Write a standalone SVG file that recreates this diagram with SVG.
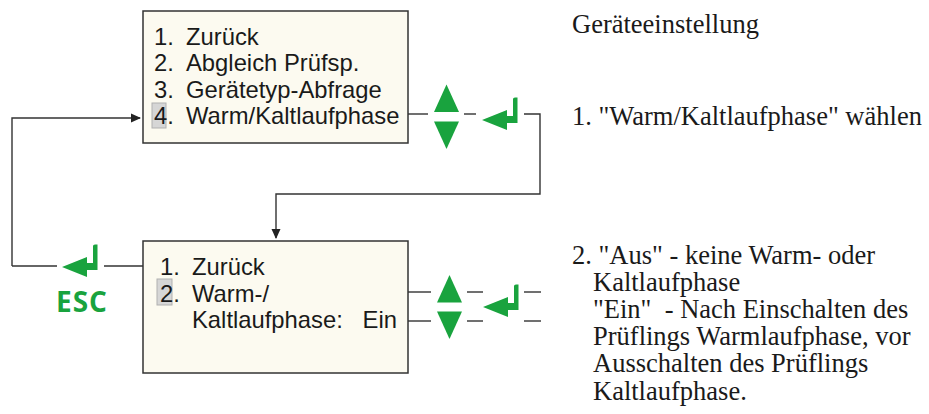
<svg xmlns="http://www.w3.org/2000/svg" width="929" height="414" viewBox="0 0 929 414">
<style>
.box{fill:#fcfaf0;stroke:#333;stroke-width:1.5}
.hl{fill:#d6d6d6;stroke:#b0b0b0;stroke-width:1}
.mt{font-family:"Liberation Sans",Arial,sans-serif;font-size:23.8px;fill:#1a1a1a}
.rt{font-family:"Liberation Serif","Times New Roman",serif;font-size:26.5px;fill:#1a1a1a;white-space:pre}
.ln{fill:none;stroke:#333;stroke-width:1.4}
.g{fill:#19a33e}
.esc{font-family:"Open Sans","DejaVu Sans",sans-serif;font-weight:bold;font-size:28px;fill:#19a33e;letter-spacing:1px}
</style>
<defs>
<marker id="ah" markerWidth="10" markerHeight="10" refX="9" refY="5" orient="auto" markerUnits="userSpaceOnUse">
<path d="M0,0.5 L10,5 L0,9.5 Z" fill="#222"/>
</marker>
<path id="enter" d="M0,0 L25,-10 L25,-4 L31,-4 L31,-21 Q31,-22.5 33,-22.5 L35.5,-22.5 L35.5,3 L25,3 L25,10 Z" class="g"/>
<path id="up" d="M12.5,0 L25,27.5 L0,27.5 Z" class="g"/>
<path id="down" d="M0,0 L25,0 L12.5,27.5 Z" class="g"/>
</defs>

<g id="connectors">
<polyline class="ln" points="12,266 12,118 140,118" marker-end="url(#ah)"/>
<line class="ln" x1="12" y1="266" x2="57" y2="266"/>
<line class="ln" x1="104" y1="266" x2="143" y2="266"/>
<line class="ln" x1="408" y1="114" x2="428" y2="114"/>
<line class="ln" x1="464" y1="114" x2="476" y2="114"/>
<polyline class="ln" points="524,114 540,114 540,194 276,194 276,238" marker-end="url(#ah)"/>
<line class="ln" x1="408" y1="292" x2="431" y2="292"/>
<line class="ln" x1="467" y1="292" x2="483" y2="292"/>
<line class="ln" x1="524" y1="292" x2="541" y2="292"/>
<line class="ln" x1="408" y1="321" x2="431" y2="321"/>
<line class="ln" x1="467" y1="321" x2="483" y2="321"/>
<line class="ln" x1="524" y1="321" x2="541" y2="321"/>
</g>

<g id="menu1">
<rect class="box" x="143" y="11" width="265" height="132"/>
<rect class="hl" x="152" y="103" width="14" height="25"/>
<text class="mt" x="154" y="45">1.</text><text class="mt" x="186" y="45">Zurück</text>
<text class="mt" x="154" y="71">2.</text><text class="mt" x="186" y="71">Abgleich Prüfsp.</text>
<text class="mt" x="154" y="97.5">3.</text><text class="mt" x="186" y="97.5">Gerätetyp-Abfrage</text>
<text class="mt" x="154" y="124">4.</text><text class="mt" x="186" y="124">Warm/Kaltlaufphase</text>
</g>

<g id="keys1">
<use href="#up" x="434" y="84.5"/>
<use href="#down" x="434" y="121.5"/>
<use href="#enter" x="482" y="120"/>
</g>

<g id="menu2">
<rect class="box" x="143" y="241" width="265" height="132"/>
<rect class="hl" x="157" y="279" width="15" height="26"/>
<text class="mt" x="160" y="275">1.</text><text class="mt" x="192" y="275">Zurück</text>
<text class="mt" x="160" y="301.5">2.</text><text class="mt" x="192" y="301.5">Warm-/</text>
<text class="mt" x="192" y="328">Kaltlaufphase:</text>
<text class="mt" x="397" y="328" text-anchor="end">Ein</text>
</g>

<g id="keys2">
<use href="#up" x="437" y="275"/>
<use href="#down" x="437" y="311.5"/>
<use href="#enter" x="483" y="307"/>
</g>

<g id="esc">
<use href="#enter" x="62" y="267"/>
<text class="esc" x="82" y="312" text-anchor="middle">ESC</text>
</g>

<g id="notes">
<text class="rt" x="572" y="33">Geräteeinstellung</text>
<text class="rt" x="572" y="124.5">1. "Warm/Kaltlaufphase" wählen</text>
<text class="rt" x="572" y="263.5">2. "Aus" - keine Warm- oder</text>
<text class="rt" x="593" y="290.5">Kaltlaufphase</text>
<text class="rt" x="593" y="317.5">"Ein"  - Nach Einschalten des</text>
<text class="rt" x="593" y="345">Prüflings Warmlaufphase, vor</text>
<text class="rt" x="593" y="372">Ausschalten des Prüflings</text>
<text class="rt" x="593" y="399.5">Kaltlaufphase.</text>
</g>
</svg>
